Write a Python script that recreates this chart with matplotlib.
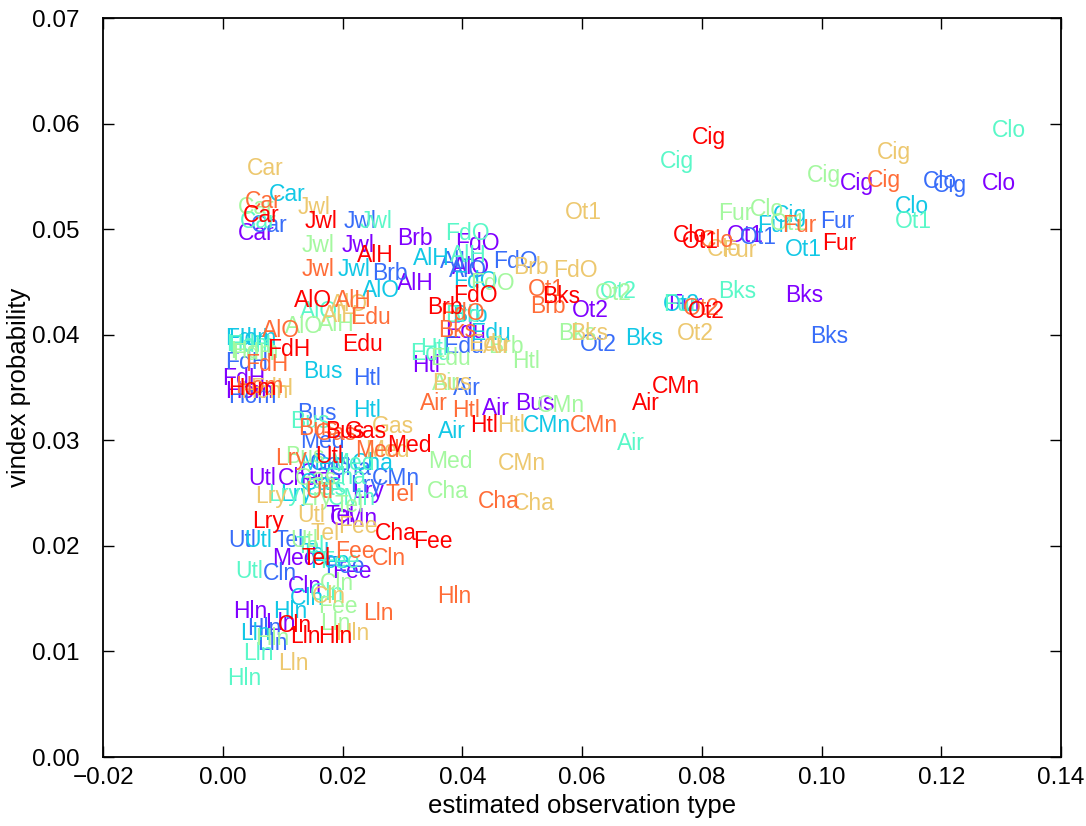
import numpy as np
import matplotlib
matplotlib.use('Agg')
import matplotlib.pyplot as plt

plt.rcParams['font.family'] = ['Liberation Sans', 'DejaVu Sans']
plt.rcParams['axes.unicode_minus'] = True

cats = ['Car', 'Jwl', 'AlH', 'AlO', 'Brb', 'FdO', 'FdH', 'Hom', 'Edu', 'Bus',
        'Htl', 'Air', 'CMn', 'Med', 'Gas', 'Utl', 'Cha', 'Lry', 'Tel', 'Fee',
        'Cln', 'Hln', 'Lln', 'Cig', 'Clo', 'Fur', 'Ot1', 'Ot2', 'Bks']

# one column per group (8 groups), one row per category
est_type = np.array([
    [0.0025, 0.0046, 0.0076, 0.0029, 0.0025, 0.0040, 0.0037, 0.0034],  # Car
    [0.0199, 0.0201, 0.0192, 0.0229, 0.0132, 0.0124, 0.0132, 0.0137],  # Jwl
    [0.0291, 0.0363, 0.0318, 0.0380, 0.0159, 0.0166, 0.0187, 0.0224],  # AlH
    [0.0383, 0.0378, 0.0233, 0.0129, 0.0104, 0.0179, 0.0066, 0.0119],  # AlO
    [0.0291, 0.0249, 0.0383, 0.0371, 0.0443, 0.0485, 0.0513, 0.0341],  # Brb
    [0.0388, 0.0451, 0.0385, 0.0371, 0.0413, 0.0552, 0.0363, 0.0385],  # FdO
    [-0.0001, 0.0004, 0.0004, 0.0009, 0.0015, 0.0046, 0.0037, 0.0074],  # FdH
    [0.0004, 0.0009, 0.0009, 0.0005, 0.0012, 0.0029, 0.0020, 0.0009],  # Hom
    [0.0371, 0.0368, 0.0413, 0.0313, 0.0346, 0.0410, 0.0213, 0.0199],  # Edu
    [0.0488, 0.0124, 0.0134, 0.0112, 0.0104, 0.0349, 0.0126, 0.0171],  # Bus
    [0.0316, 0.0218, 0.0218, 0.0329, 0.0483, 0.0458, 0.0383, 0.0413],  # Htl
    [0.0433, 0.0385, 0.0359, 0.0658, 0.0349, 0.0435, 0.0329, 0.0684],  # Air
    [0.0179, 0.0249, 0.0501, 0.0176, 0.0525, 0.0460, 0.0580, 0.0717],  # CMn
    [0.0082, 0.0129, 0.0129, 0.0179, 0.0343, 0.0238, 0.0221, 0.0274],  # Med
    [0.0129, 0.0146, 0.0129, 0.0137, 0.0121, 0.0249, 0.0154, 0.0204],  # Gas
    [0.0042, 0.0009, 0.0035, 0.0020, 0.0112, 0.0124, 0.0137, 0.0154],  # Utl
    [0.0092, 0.0179, 0.0216, 0.0171, 0.0341, 0.0485, 0.0426, 0.0254],  # Cha
    [0.0216, 0.0213, 0.0096, 0.0076, 0.0129, 0.0054, 0.0087, 0.0049],  # Lry
    [0.0171, 0.0087, 0.0129, 0.0121, 0.0187, 0.0146, 0.0271, 0.0132],  # Tel
    [0.0182, 0.0171, 0.0146, 0.0162, 0.0159, 0.0192, 0.0187, 0.0318],  # Fee
    [0.0109, 0.0066, 0.0112, 0.0146, 0.0162, 0.0149, 0.0249, 0.0091],  # Cln
    [0.0017, 0.0040, 0.0084, 0.0007, 0.0054, 0.0187, 0.0358, 0.0159],  # Hln
    [0.0071, 0.0057, 0.0029, 0.0034, 0.0162, 0.0092, 0.0234, 0.0112],  # Lln
    [0.1031, 0.1186, 0.0919, 0.0730, 0.0976, 0.1093, 0.1076, 0.0784],  # Cig
    [0.1268, 0.1169, 0.1123, 0.1285, 0.0881, 0.0809, 0.0797, 0.0752],  # Clo
    [0.0744, 0.0997, 0.0892, 0.0735, 0.0827, 0.0834, 0.0934, 0.1001],  # Fur
    [0.0842, 0.0864, 0.0939, 0.1123, 0.0914, 0.0572, 0.0510, 0.0767],  # Ot1
    [0.0583, 0.0597, 0.0735, 0.0630, 0.0622, 0.0759, 0.0769, 0.0777],  # Ot2
    [0.0939, 0.0981, 0.0672, 0.0827, 0.0560, 0.0580, 0.0359, 0.0533],  # Bks
])

vindex = np.array([
    [0.0490, 0.0497, 0.0527, 0.0501, 0.0514, 0.0551, 0.0520, 0.0507],  # Car
    [0.0478, 0.0501, 0.0456, 0.0501, 0.0478, 0.0514, 0.0456, 0.0501],  # Jwl
    [0.0442, 0.0463, 0.0466, 0.0469, 0.0404, 0.0412, 0.0426, 0.0469],  # AlH
    [0.0458, 0.0455, 0.0436, 0.0416, 0.0402, 0.0423, 0.0398, 0.0426],  # AlO
    [0.0485, 0.0452, 0.0412, 0.0412, 0.0383, 0.0458, 0.0421, 0.0420],  # Brb
    [0.0480, 0.0463, 0.0444, 0.0490, 0.0442, 0.0455, 0.0414, 0.0431],  # FdO
    [0.0352, 0.0368, 0.0390, 0.0384, 0.0376, 0.0343, 0.0366, 0.0380],  # FdH
    [0.0340, 0.0335, 0.0390, 0.0385, 0.0378, 0.0340, 0.0345, 0.0343],  # Hom
    [0.0397, 0.0383, 0.0395, 0.0376, 0.0371, 0.0385, 0.0410, 0.0385],  # Edu
    [0.0329, 0.0319, 0.0359, 0.0312, 0.0279, 0.0348, 0.0305, 0.0302],  # Bus
    [0.0365, 0.0352, 0.0322, 0.0381, 0.0369, 0.0308, 0.0322, 0.0308],  # Htl
    [0.0324, 0.0343, 0.0302, 0.0291, 0.0348, 0.0383, 0.0329, 0.0329],  # Air
    [0.0220, 0.0258, 0.0308, 0.0239, 0.0327, 0.0272, 0.0308, 0.0345],  # CMn
    [0.0182, 0.0293, 0.0272, 0.0272, 0.0274, 0.0284, 0.0284, 0.0289],  # Med
    [0.0262, 0.0272, 0.0253, 0.0248, 0.0258, 0.0307, 0.0300, 0.0302],  # Gas
    [0.0258, 0.0199, 0.0199, 0.0170, 0.0199, 0.0223, 0.0245, 0.0279],  # Utl
    [0.0258, 0.0267, 0.0272, 0.0259, 0.0245, 0.0234, 0.0236, 0.0206],  # Cha
    [0.0245, 0.0251, 0.0243, 0.0243, 0.0239, 0.0241, 0.0277, 0.0217],  # Lry
    [0.0223, 0.0199, 0.0187, 0.0193, 0.0232, 0.0206, 0.0243, 0.0182],  # Tel
    [0.0170, 0.0174, 0.0179, 0.0179, 0.0136, 0.0212, 0.0189, 0.0198],  # Fee
    [0.0155, 0.0168, 0.0144, 0.0149, 0.0158, 0.0146, 0.0182, 0.0118],  # Cln
    [0.0132, 0.0116, 0.0132, 0.0068, 0.0106, 0.0111, 0.0146, 0.0108],  # Hln
    [0.0120, 0.0101, 0.0111, 0.0092, 0.0120, 0.0082, 0.0130, 0.0108],  # Lln
    [0.0537, 0.0535, 0.0507, 0.0558, 0.0545, 0.0567, 0.0540, 0.0581],  # Cig
    [0.0537, 0.0539, 0.0515, 0.0587, 0.0513, 0.0475, 0.0483, 0.0488],  # Clo
    [0.0423, 0.0501, 0.0497, 0.0423, 0.0509, 0.0474, 0.0497, 0.0480],  # Fur
    [0.0488, 0.0486, 0.0475, 0.0501, 0.0499, 0.0510, 0.0437, 0.0482],  # Ot1
    [0.0417, 0.0385, 0.0423, 0.0435, 0.0433, 0.0395, 0.0419, 0.0416],  # Ot2
    [0.0431, 0.0392, 0.0390, 0.0435, 0.0395, 0.0395, 0.0398, 0.0430],  # Bks
])

n_groups = est_type.shape[1]
colors = plt.cm.rainbow(np.linspace(0, 1, n_groups))

fig = plt.figure(figsize=(10.86, 8.26), dpi=100)
ax = fig.add_axes([0.095, 0.0835, 0.882, 0.8945])

for g in range(n_groups):
    for i, c in enumerate(cats):
        ax.text(est_type[i, g], vindex[i, g], c, color=colors[g], fontsize=16.5)

ax.set_xlim(-0.02, 0.14)
ax.set_ylim(0, 0.07)
ax.set_xticks(np.arange(-0.02, 0.141, 0.02))
ax.set_yticks(np.arange(0, 0.071, 0.01))
fmt = matplotlib.ticker.FuncFormatter(lambda v, pos: ('%.2f' % v).replace('-', '\u2212'))
ax.xaxis.set_major_formatter(fmt)
ax.yaxis.set_major_formatter(fmt)
ax.tick_params(direction='in', top=True, right=True, length=8, width=1,
               labelsize=17.5)
ax.tick_params(axis='y', pad=17)
ax.tick_params(axis='x', pad=7)
for s in ax.spines.values():
    s.set_linewidth(1.3)
ax.set_xlabel('estimated observation type', fontsize=18.5, labelpad=4)
ax.set_ylabel('vindex probability', fontsize=18.5, labelpad=1)

fig.savefig('out.png', dpi=100, facecolor='white')
